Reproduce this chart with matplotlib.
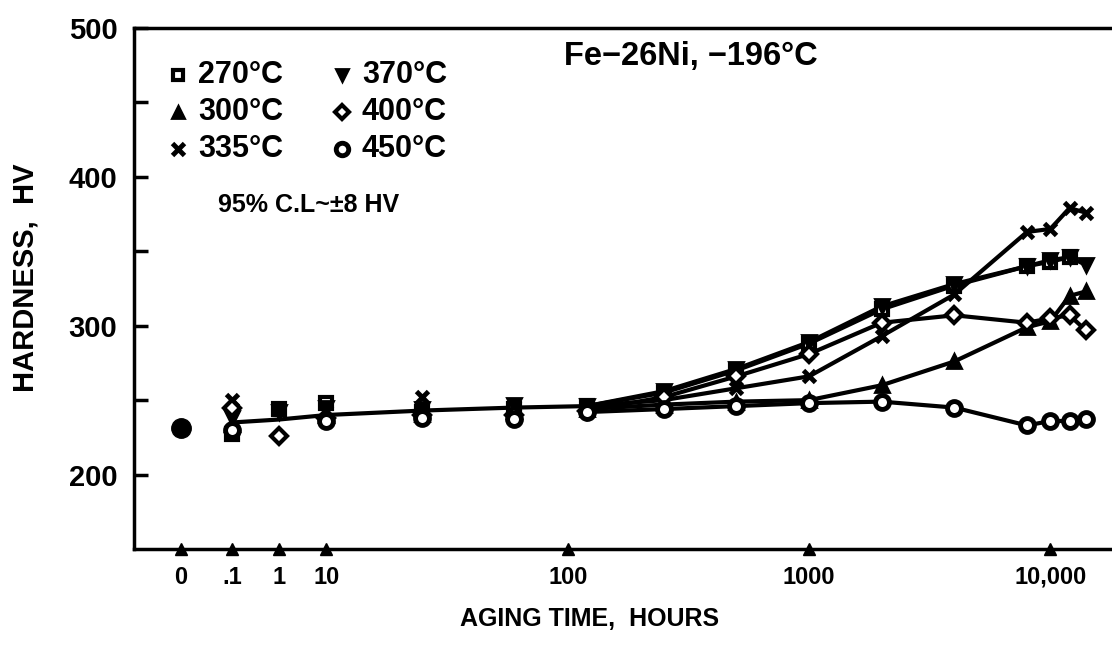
import numpy as np
import matplotlib
matplotlib.use('Agg')
import matplotlib.pyplot as plt
from matplotlib.lines import Line2D

plt.rcParams['font.family'] = ['Liberation Sans', 'DejaVu Sans']
plt.rcParams['font.weight'] = 'bold'

# aging times (hours) and Vickers hardness for each aging temperature
quench_hv = 231   # as-quenched, 0 h

hrs_270 = [0.1, 1, 10, 25, 60, 120, 250, 500, 1000, 2000, 4000, 8000, 10000, 12000]
hv_270 = [227, 244, 248, 242, 244, 246, 255, 270, 288, 311, 327, 340, 343, 346]

hrs_300 = [0.1, 10, 25, 60, 120, 250, 500, 1000, 2000, 4000, 8000, 10000, 12000, 14000]
hv_300 = [234, 240, 241, 243, 244, 247, 249, 250, 260, 276, 299, 303, 320, 323]

hrs_335 = [0.1, 10, 25, 60, 120, 250, 500, 1000, 2000, 4000, 8000, 10000, 12000, 14000]
hv_335 = [250, 243, 252, 246, 246, 250, 258, 266, 293, 321, 363, 365, 379, 376]

hrs_370 = [0.1, 1, 10, 25, 60, 120, 250, 500, 1000, 2000, 4000, 8000, 10000, 12000, 14000]
hv_370 = [238, 242, 245, 244, 247, 246, 256, 271, 289, 313, 328, 340, 344, 346, 341]

hrs_400 = [0.1, 1, 10, 25, 60, 120, 250, 500, 1000, 2000, 4000, 8000, 10000, 12000, 14000]
hv_400 = [245, 226, 238, 240, 240, 243, 252, 266, 281, 302, 307, 302, 305, 307, 297]

hrs_450 = [0.1, 10, 25, 60, 120, 250, 500, 1000, 2000, 4000, 8000, 10000, 12000, 14000]
hv_450 = [230, 236, 238, 237, 242, 244, 246, 248, 249, 245, 233, 236, 236, 237]

# common trend up to 120 h
trend_hrs = [0.1, 1, 10, 25, 60, 120]
trend_hv = [235, 237, 240, 243, 245, 246]

tick_hrs = [0, 0.1, 1, 10, 100, 1000, 10000]
tick_lbls = ['0', '.1', '1', '10', '100', '1000', '10,000']

# short times are squeezed in front of the log decades
HRS = [-1.0, 0.0, 0.1, 1.0, 10.0]
POS = [0.008, 0.398, 0.610, 0.805, 1.0]

def fwd(h):
    h = np.asarray(h, dtype=float)
    return np.where(h >= 10, np.log10(np.clip(h, 10, None)), np.interp(h, HRS, POS))

def inv(p):
    p = np.asarray(p, dtype=float)
    return np.where(p >= 1, 10 ** np.clip(p, 1, 12), np.interp(p, POS, HRS))


fig = plt.figure(figsize=(11.12, 6.5), dpi=100)
ax = fig.add_axes([134/1112, 1-549/650, 978/1112, 521/650])
ax.set_xscale('function', functions=(fwd, inv))
ax.set_xlim(-0.5, 18000)
ax.set_ylim(150, 500)

lw = 3
#        hours    HV      marker face  size mew  label
series = [
    (hrs_270, hv_270, 's', 'white', 8, 3, '270°C'),
    (hrs_300, hv_300, '^', 'black', 10, 2, '300°C'),
    (hrs_335, hv_335, 'x', 'black', 9, 3.5, '335°C'),
    (hrs_370, hv_370, 'v', 'black', 10, 2, '370°C'),
    (hrs_400, hv_400, 'D', 'white', 8, 3, '400°C'),
    (hrs_450, hv_450, 'o', 'white', 10, 3.5, '450°C'),
]

ax.plot(trend_hrs, trend_hv, color='black', lw=lw, zorder=2)
for x, y, m, fc, ms, mew, lab in series:
    x = np.array(x)
    y = np.array(y)
    late = x >= 120
    ax.plot(x[late], y[late], color='black', lw=lw, zorder=2)
    ax.plot(x, y, ls='none', marker=m, ms=ms, mfc=fc, mec='black', mew=mew, zorder=3)

ax.plot([0], [quench_hv], 'o', color='black', ms=14, zorder=3)

# triangle marks along the time axis
ax.plot(tick_hrs, [150]*len(tick_hrs), '^', color='black', ms=9, clip_on=False, zorder=4)

ax.set_xticks(tick_hrs)
ax.set_xticklabels(tick_lbls, fontsize=17)
ax.xaxis.set_minor_locator(matplotlib.ticker.NullLocator())
ax.tick_params(axis='x', length=0, pad=12)
ax.set_yticks([200, 300, 400, 500])
ax.set_yticks([250, 350, 450], minor=True)
ax.tick_params(axis='y', which='both', direction='in', length=10, width=2.5, pad=12, labelsize=21)

for s in ['left', 'top', 'bottom']:
    ax.spines[s].set_linewidth(2.5)
ax.spines['right'].set_visible(False)

fig.text(590/1112, 1-619/650, 'AGING TIME,  HOURS', fontsize=18,
         fontweight='bold', ha='center', va='center')
fig.text(26/1112, 1-278/650, 'HARDNESS,  HV', fontsize=21,
         fontweight='bold', ha='center', va='center', rotation=90)

fig.text(564/1112, 1-57/650, 'Fe\u221226Ni, \u2212196°C', fontsize=23.5, va='center', ha='left')
fig.text(218/1112, 1-205/650, '95% C.L~±8 HV', fontsize=18, va='center', ha='left')

# legend keys, two columns of three
key_x = [178, 342]
key_y = [75, 112, 149]
for i, (x, y, m, fc, ms, mew, lab) in enumerate(series):
    col, row = divmod(i, 3)
    px = key_x[col] / 1112
    py = 1 - key_y[row] / 650
    fig.add_artist(Line2D([px], [py], ls='none', marker=m, ms=ms - 1, mfc=fc,
                          mec='black', mew=mew, transform=fig.transFigure))
    fig.text(px + 20/1112, py, lab, fontsize=22, va='center', ha='left')

fig.savefig('out.png', dpi=100)
